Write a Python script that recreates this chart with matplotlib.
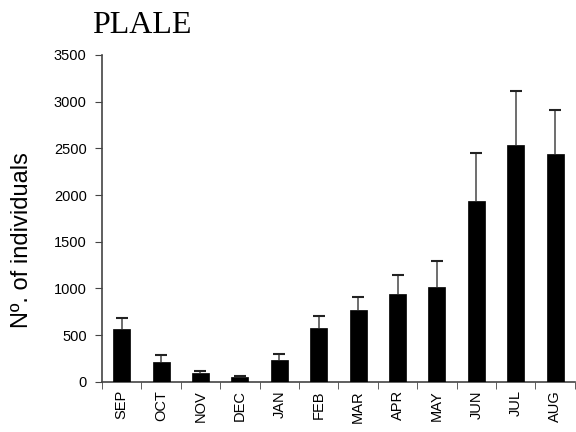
import numpy as np
import matplotlib.pyplot as plt

meses = ['SEP', 'OCT', 'NOV', 'DEC', 'JAN', 'FEB', 'MAR', 'APR', 'MAY', 'JUN', 'JUL', 'AUG']
media = [565, 211, 96, 54, 233, 576, 772, 943, 1018, 1935, 2530, 2435]
topo_erro = [686, 289, 121, 68, 300, 707, 904, 1147, 1289, 2455, 3110, 2915]

x = np.arange(len(meses))

fig = plt.figure(figsize=(5.76, 4.32), dpi=100)
ax = fig.add_axes([0.177, 0.116, 0.821, 0.757])

# barra de erro so para cima: linha + traco no topo
ax.vlines(x, media, topo_erro, color='#555555', linewidth=1.2, zorder=2)
ax.plot(x, topo_erro, linestyle='none', marker='_', markersize=8,
        markeredgewidth=1.5, color='#222222', zorder=2)
ax.bar(x, media, width=0.43, color='black', edgecolor='black', linewidth=0.5, zorder=3)

ax.set_xlim(-0.5, len(meses) - 0.5)
ax.set_ylim(0, 3500)
ax.set_yticks(np.arange(0, 3501, 500))

ax.set_xticks(x)
ax.set_xticklabels(meses, rotation=90, fontsize=10.5, family='Liberation Sans')
ax.tick_params(axis='x', which='major', length=0, pad=6)
ax.set_xticks(np.arange(-0.5, len(meses), 1), minor=True)
ax.tick_params(axis='x', which='minor', length=5, color='#444444', direction='out')
ax.tick_params(axis='y', length=5, color='#444444', labelsize=10.5, pad=6)
for lbl in ax.get_yticklabels():
    lbl.set_family('Liberation Sans')

for s in ['top', 'right']:
    ax.spines[s].set_visible(False)
for s in ['left', 'bottom']:
    ax.spines[s].set_color('#444444')
    ax.spines[s].set_linewidth(1.2)

ax.set_ylabel('Nº. of individuals', fontsize=17, family='Liberation Sans')
ax.yaxis.set_label_coords(-0.146, 0.433)
fig.text(0.247, 0.94, 'PLALE', fontsize=23, family='Liberation Serif', ha='center', va='center')

plt.savefig('out.png', dpi=100)
